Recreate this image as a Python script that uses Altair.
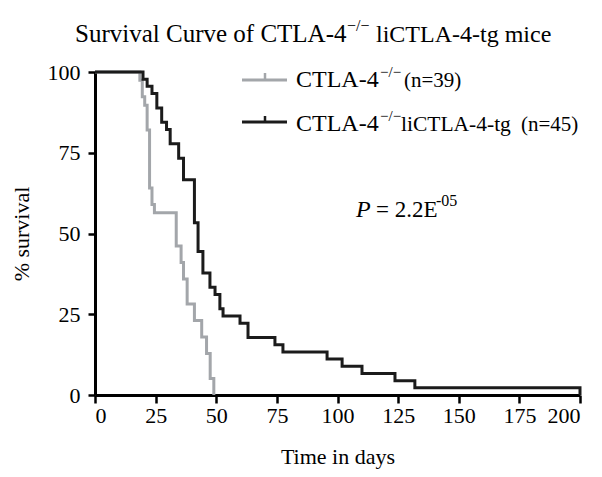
import altair as alt
import pandas as pd
import numpy as np

# ---- data ----
grey_days = [18.5, 19.5, 20.5, 21.5, 22.5, 23.5, 24.5, 33.5, 35.5, 36.5, 38, 41, 44, 46, 47.5, 49]
grey_deaths = [1, 2, 1, 3, 7, 2, 1, 4, 2, 2, 3, 2, 2, 2, 3, 2]
grey_n = 39

black_days = [19.8, 21.5, 23.5, 25.5, 27.5, 29.5, 31, 34.5, 36.5, 41, 42.5, 44.5, 47.4, 49.5,
              51.5, 52.8, 59.8, 63.1, 74.2, 77.5, 95.7, 101.9, 110.1, 123.7, 131.9, 200]
black_deaths = [1, 1, 1, 2, 2, 1, 2, 2, 3, 6, 4, 3, 2, 1, 2, 1, 1, 2, 1, 1, 1, 1, 1, 1, 1, 1]
black_n = 45

x_ticks = [0, 25, 50, 75, 100, 125, 150, 175, 200]
y_ticks = [0, 25, 50, 75, 100]

FONT = "Liberation Serif"
GREY = "#a3a6aa"
BLACK = "#1b1b1b"


def km(days, deaths, n, group):
    alive = n - np.cumsum(deaths)
    xs = [0] + list(days)
    ys = [100.0] + list(alive / n * 100)
    return pd.DataFrame({"day": xs, "surv": ys, "group": group, "order": range(len(xs))})


df = pd.concat([km(grey_days, grey_deaths, grey_n, "ko"),
                km(black_days, black_deaths, black_n, "tg")])

xs = alt.X("day:Q", scale=alt.Scale(domain=[0, 200], nice=False),
           axis=alt.Axis(values=x_ticks, title="Time in days", grid=False,
                         labelFont=FONT, labelFontSize=22, labelColor="black",
                         labelPadding=2, tickColor="black", tickWidth=2.5, tickSize=8,
                         domainColor="black", domainWidth=3,
                         titleFont=FONT, titleFontSize=22, titleFontWeight="normal",
                         titleColor="black", titlePadding=20))
ys = alt.Y("surv:Q", scale=alt.Scale(domain=[0, 100], nice=False),
           axis=alt.Axis(values=y_ticks, title="% survival", grid=False,
                         labelFont=FONT, labelFontSize=22, labelColor="black",
                         labelPadding=8, tickColor="black", tickWidth=2.5, tickSize=7,
                         domainColor="black", domainWidth=3,
                         titleFont=FONT, titleFontSize=22, titleFontWeight="normal",
                         titleColor="black", titlePadding=14))

grey_line = alt.Chart(df[df.group == "ko"]).mark_line(
    interpolate="step-after", color=GREY, strokeWidth=3).encode(x=xs, y=ys, order="order:Q")
black_line = alt.Chart(df[df.group == "tg"]).mark_line(
    interpolate="step-after", color=BLACK, strokeWidth=3).encode(x=xs, y=ys, order="order:Q")

one = pd.DataFrame({"a": [0]})


def txt(s, x, y, size, style="normal"):
    return alt.Chart(one).mark_text(text=s, font=FONT, fontSize=size, fontStyle=style,
                                    align="left", baseline="alphabetic", color="black").encode(
        x=alt.value(x), y=alt.value(y))


def rule(x1, x2, y1, y2, color, w):
    return alt.Chart(one).mark_rule(color=color, strokeWidth=w).encode(
        x=alt.value(x1), x2=alt.value(x2), y=alt.value(y1), y2=alt.value(y2))


SUP = "\u2212/\u2212"
annot = [
    txt("Survival Curve of CTLA-4", -20, -30, 25),
    txt(SUP, 252, -41, 16),
    txt("liCTLA-4-tg mice", 281, -30, 24),
    rule(147, 192, 8, 8, GREY, 3), rule(170, 170, 1, 8, GREY, 2.5),
    txt("CTLA-4", 201, 15, 24), txt(SUP, 285, 5, 15), txt("(n=39)", 309, 15, 21),
    rule(147, 192, 50, 50, BLACK, 3), rule(170, 170, 44, 50, BLACK, 2.5),
    txt("CTLA-4", 201, 59, 24), txt(SUP, 285, 49, 15),
    txt("liCTLA-4-tg", 306, 59, 21.5), txt("(n=45)", 426, 59, 21),
    txt("P", 261, 145, 24, "italic"), txt("= 2.2E", 281, 145, 23), txt("-05", 341, 134, 16),
]

chart = alt.layer(grey_line, black_line, *annot).properties(
    width=485, height=323,
    autosize=alt.AutoSizeParams(type="none"),
    padding={"left": 87, "top": 64, "right": 14, "bottom": 74},
    background="white",
).configure_view(stroke=None)

chart.save("out.html", embed_options={"renderer": "svg", "actions": False})
